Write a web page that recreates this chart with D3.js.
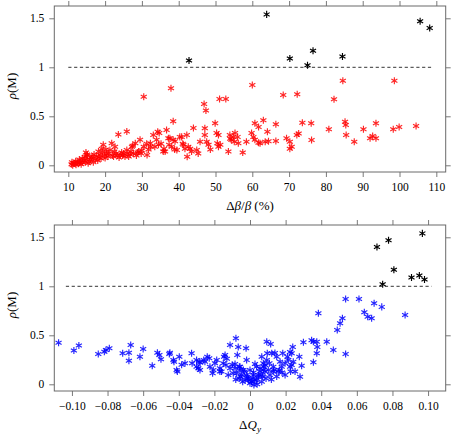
<!DOCTYPE html>
<html>
<head>
<meta charset="utf-8">
<script src="https://cdn.jsdelivr.net/npm/d3@7"></script>
<style>
  body { margin: 0; background: #fff; }
  svg text { font-family: "DejaVu Serif", "Liberation Serif", serif; }
</style>
</head>
<body>
<div id="chart"></div>
<script>
// ---- data ----
const betaRed = [
  [10.9,0.01],[11.0,0.03],[11.2,0.0],[11.5,0.02],[11.8,0.02],[12.0,0.04],[12.1,0.005],[12.4,0.03],
  [12.7,0.015],[13.0,0.025],[13.0,0.06],[13.2,0.037],[13.5,0.01],[13.8,0.07],[13.9,0.03],[14.2,0.05],
  [14.5,0.088],[14.6,0.03],[14.8,0.13],[15.0,0.058],[15.1,0.11],[15.2,0.1],[15.4,0.02],[15.7,0.04],
  [16.0,0.06],[16.3,0.075],[16.5,0.09],[16.8,0.03],[17.0,0.11],[17.3,0.058],[17.7,0.09],[18.0,0.05],
  [18.2,0.14],[18.4,0.08],[18.6,0.105],[18.9,0.07],[19.1,0.17],[19.3,0.13],[19.5,0.21],[19.8,0.1],
  [20.0,0.075],[20.2,0.16],[20.4,0.12],[20.8,0.09],[21.0,0.12],[21.3,0.155],[21.8,0.225],[22.0,0.1],
  [22.3,0.09],[22.5,0.14],[22.7,0.19],[23.0,0.12],[23.3,0.1],[23.6,0.315],[23.8,0.08],[24.1,0.105],
  [24.5,0.13],[24.8,0.1],[25.0,0.12],[25.4,0.09],[25.9,0.345],[25.9,0.155],[26.0,0.12],[26.4,0.09],
  [26.8,0.11],[27.0,0.14],[27.3,0.19],[27.5,0.2],[27.7,0.12],[28.2,0.225],[28.5,0.1],[28.8,0.13],
  [29.1,0.14],[29.5,0.26],[29.8,0.12],[30.0,0.15],[30.5,0.19],[30.5,0.70],[31.3,0.22],[31.4,0.105],
  [31.8,0.16],[32.3,0.225],[32.4,0.19],[33.1,0.31],[33.5,0.19],[34.0,0.26],[34.3,0.343],[34.5,0.21],
  [34.7,0.33],[35.2,0.22],[35.8,0.14],[36.0,0.17],[36.3,0.14],[36.7,0.36],[37.2,0.275],[37.4,0.21],
  [37.6,0.275],[37.9,0.786],[38.1,0.19],[38.5,0.45],[38.5,0.26],[38.9,0.16],[39.0,0.245],[39.5,0.156],
  [40.3,0.29],[40.8,0.29],[41.1,0.22],[41.3,0.21],[41.7,0.17],[42.2,0.31],[42.3,0.088],[42.6,0.19],
  [43.1,0.17],[43.5,0.14],[44.0,0.38],[44.9,0.156],[45.3,0.12],[45.8,0.24],[46.9,0.626],[47.1,0.377],
  [47.1,0.31],[47.4,0.558],[47.6,0.24],[48.1,0.21],[48.6,0.16],[49.9,0.43],[50.3,0.33],[50.5,0.225],
  [50.8,0.31],[50.8,0.19],[51.1,0.677],[51.3,0.21],[52.8,0.677],[53.5,0.14],[53.9,0.31],[54.0,0.27],
  [54.3,0.26],[54.9,0.29],[55.1,0.24],[55.3,0.33],[56.0,0.29],[56.2,0.225],[57.4,0.13],[58.4,0.24],
  [59.8,0.33],[60.0,0.82],[60.3,0.29],[60.7,0.43],[60.7,0.26],[61.7,0.39],[61.7,0.23],[62.1,0.225],
  [63.0,0.46],[63.5,0.24],[64.1,0.343],[64.4,0.245],[66.4,0.42],[66.4,0.248],[68.4,0.717],[69.3,0.275],
  [70.2,0.24],[70.2,0.17],[70.7,0.19],[72.1,0.31],[72.2,0.724],[72.6,0.325],[73.6,0.435],[76.0,0.43],
  [76.1,0.258],[80.8,0.367],[82.2,0.673],[84.6,0.863],[85.2,0.445],[85.4,0.41],[85.5,0.31],[87.7,0.24],
  [90.2,0.367],[92.0,0.275],[92.7,0.30],[93.6,0.275],[93.6,0.43],[98.3,0.367],[98.6,0.863],[99.9,0.39],
  [104.5,0.40]
];
const betaBlack = [
  [42.8,1.07],[63.9,1.54],[70.2,1.09],[75.0,1.02],[76.5,1.17],[84.5,1.11],[105.6,1.47],[108.2,1.40]
];
const qBlue = [
  [-0.1075,0.425],[-0.0989,0.344],[-0.0961,0.395],[-0.0852,0.31],[-0.0818,0.333],[-0.0809,0.35],
  [-0.079,0.367],[-0.0715,0.316],[-0.068,0.323],[-0.068,0.24],[-0.067,0.40],[-0.0618,0.28],[-0.06,0.36],
  [-0.0549,0.19],[-0.052,0.323],[-0.0509,0.30],[-0.05,0.255],[-0.0453,0.31],[-0.045,0.323],[-0.043,0.248],
  [-0.0427,0.23],[-0.0412,0.146],[-0.0408,0.13],[-0.0397,0.28],[-0.0384,0.20],[-0.0365,0.214],
  [-0.0328,0.316],[-0.0325,0.214],[-0.03,0.248],[-0.03,0.18],[-0.029,0.163],[-0.0285,0.23],[-0.0281,0.146],
  [-0.028,0.22],[-0.026,0.248],[-0.0253,0.23],[-0.024,0.28],[-0.0229,0.265],[-0.0225,0.18],[-0.021,0.112],
  [-0.0206,0.146],[-0.0197,0.214],[-0.0187,0.248],[-0.0169,0.163],[-0.0169,0.13],[-0.016,0.13],
  [-0.015,0.214],[-0.0146,0.28],[-0.014,0.30],[-0.0135,0.197],[-0.013,0.26],[-0.0122,0.095],[-0.0112,0.40],
  [-0.0112,0.163],[-0.01,0.2],[-0.0094,0.112],[-0.0084,0.207],[-0.0084,0.163],[-0.008,0.05],[-0.0079,0.47],
  [-0.0075,0.112],[-0.0071,0.30],[-0.0066,0.38],[-0.006,0.18],[-0.006,0.06],[-0.0056,0.146],[-0.0056,0.18],
  [-0.0052,0.078],[-0.0047,0.095],[-0.0041,0.027],[-0.0037,0.146],[-0.003,0.13],[-0.0028,0.044],
  [-0.0022,0.367],[-0.0019,0.248],[-0.0019,0.095],[-0.0015,0.078],[-0.001,0.061],[-0.0009,0.044],
  [0.0,0.01],[0.0,0.146],[0.0009,0.027],[0.001,0.027],[0.0015,0.061],[0.0019,0.095],[0.002,0.12],
  [0.0022,-0.007],[0.0028,0.207],[0.0028,0.044],[0.0037,0.044],[0.0037,0.18],[0.004,0.0],[0.0047,0.095],
  [0.0047,0.078],[0.0056,0.163],[0.0056,0.13],[0.0066,0.28],[0.0066,0.095],[0.0066,0.027],[0.0071,0.078],
  [0.0075,0.146],[0.0075,0.214],[0.0079,0.18],[0.0084,0.13],[0.0084,0.197],[0.009,0.06],[0.0094,0.435],
  [0.0094,0.248],[0.0097,0.316],[0.0103,0.146],[0.0109,0.214],[0.0112,0.095],[0.0116,0.41],[0.012,0.05],
  [0.0122,0.316],[0.0131,0.13],[0.0131,0.18],[0.0135,0.146],[0.014,0.32],[0.015,0.28],[0.015,0.08],
  [0.0159,0.13],[0.0165,0.146],[0.0169,0.23],[0.0178,0.18],[0.018,0.12],[0.0184,0.316],[0.0197,0.095],
  [0.0197,0.214],[0.021,0.28],[0.0215,0.248],[0.0225,0.18],[0.0225,0.33],[0.0228,0.13],[0.0234,0.316],
  [0.0234,0.197],[0.024,0.38],[0.0243,0.23],[0.0253,0.13],[0.0277,0.28],[0.0281,0.078],[0.029,0.19],
  [0.03,0.43],[0.0346,0.45],[0.0356,0.435],[0.0356,0.224],[0.0375,0.435],[0.0375,0.316],[0.0378,0.38],
  [0.0384,0.725],[0.0431,0.435],[0.0468,0.35],[0.049,0.554],[0.0506,0.622],[0.0519,0.673],
  [0.0537,0.87],[0.0537,0.31],[0.0612,0.87],[0.0642,0.735],[0.0661,0.69],[0.0683,0.673],[0.0697,0.826],
  [0.074,0.79],[0.0871,0.707]
];
const qBlack = [
  [0.0713,1.40],[0.0778,1.47],[0.0808,1.17],[0.0745,1.02],[0.0907,1.09],[0.0951,1.11],[0.0968,1.54],[0.098,1.07]
];
const rhoTicks = [0, 0.5, 1, 1.5];
const betaTicks = [10, 20, 30, 40, 50, 60, 70, 80, 90, 100, 110];
const qTicks = [-0.10, -0.08, -0.06, -0.04, -0.02, 0, 0.02, 0.04, 0.06, 0.08, 0.10];
const betaLimitSpan = [10, 108.9];
const qLimitSpan = [-0.1034, 0.102];

const W = 452, H = 437;
const serif = "'Liberation Serif', 'DejaVu Serif', 'Times New Roman', serif";
const svg = d3.select("#chart").append("svg").attr("width", W).attr("height", H);

const panel = (opts) => {
  const { top, bottom, left, right, xDomain, yDomain, xTicks, xFmt, pts, black, colour, span, xTitle } = opts;
  const x = d3.scaleLinear().domain(xDomain).range([left, right]);
  const y = d3.scaleLinear().domain(yDomain).range([bottom, top]);
  const g = svg.append("g");
  const axisCol = "#6a6a6a";

  const styleAxis = (sel) => {
    sel.attr("font-family", serif).attr("font-size", 11.5);
    sel.select(".domain").remove();
    sel.selectAll(".tick line").attr("stroke", axisCol).attr("stroke-width", 0.9);
    sel.selectAll(".tick text").attr("fill", "#000")
      .attr("font-family", serif).style("font-family", serif).style("font-size", "11.5px");
  };

  g.append("g").attr("transform", `translate(0,${bottom})`)
    .call(d3.axisBottom(x).tickValues(xTicks).tickFormat(xFmt).tickSize(5).tickPadding(6))
    .call(styleAxis);
  g.append("g").attr("transform", `translate(0,${top})`)
    .call(d3.axisTop(x).tickValues(xTicks).tickFormat("").tickSize(5))
    .call(styleAxis);
  g.append("g").attr("transform", `translate(${left},0)`)
    .call(d3.axisLeft(y).tickValues(rhoTicks).tickFormat(d3.format("")).tickSize(5).tickPadding(5))
    .call(styleAxis);
  g.append("g").attr("transform", `translate(${right},0)`)
    .call(d3.axisRight(y).tickValues(rhoTicks).tickFormat("").tickSize(5))
    .call(styleAxis);

  g.append("rect").attr("x", left).attr("y", top)
    .attr("width", right - left).attr("height", bottom - top)
    .attr("fill", "none").attr("stroke", axisCol).attr("stroke-width", 1);

  g.append("line")
    .attr("x1", x(span[0])).attr("x2", x(span[1]))
    .attr("y1", y(1)).attr("y2", y(1))
    .attr("stroke", "#000").attr("stroke-width", 0.8).attr("stroke-dasharray", "3.2,2.6");

  const star = d3.symbol(d3.symbolAsterisk, 34);
  g.append("g").selectAll("path").data(pts).join("path")
    .attr("transform", d => `translate(${x(d[0])},${y(d[1])})`)
    .attr("d", star).attr("fill", "none")
    .attr("stroke", colour).attr("stroke-width", 1.15).attr("stroke-opacity", 0.85);
  g.append("g").selectAll("path").data(black).join("path")
    .attr("transform", d => `translate(${x(d[0])},${y(d[1])})`)
    .attr("d", star).attr("fill", "none")
    .attr("stroke", "#000").attr("stroke-width", 1.15);

  // y title
  const yt = g.append("text")
    .attr("transform", `translate(16,${(top + bottom) / 2 - 3}) rotate(-90)`)
    .attr("text-anchor", "middle").style("font-family", serif).style("font-size", "13px");
  yt.append("tspan").style("font-style", "italic").text("ρ");
  yt.append("tspan").text("(M)");

  const xt = g.append("text").attr("x", (left + right) / 2).attr("y", bottom + 38)
    .attr("text-anchor", "middle").style("font-family", serif).style("font-size", "13px");
  xTitle(xt);
};

const L = 54.3, R = 445.7;
const yDom = [-0.0684, 1.6255];

panel({
  top: 6, bottom: 172, left: L, right: R,
  xDomain: [6.196, 112.55], yDomain: yDom,
  xTicks: betaTicks, xFmt: d3.format("d"),
  pts: betaRed, black: betaBlack, colour: "#ff0000", span: betaLimitSpan,
  xTitle: t => {
    t.append("tspan").text("Δ");
    t.append("tspan").style("font-style", "italic").text("β");
    t.append("tspan").text("/");
    t.append("tspan").style("font-style", "italic").text("β");
    t.append("tspan").text(" (%)");
  }
});

panel({
  top: 225, bottom: 391, left: L, right: R,
  xDomain: [-0.1099, 0.1099], yDomain: yDom,
  xTicks: qTicks, xFmt: d => d === 0 ? "0" : d3.format(".2f")(d).replace("-", "−"),
  pts: qBlue, black: qBlack, colour: "#0000ff", span: qLimitSpan,
  xTitle: t => {
    t.append("tspan").text("Δ");
    t.append("tspan").style("font-style", "italic").text("Q");
    t.append("tspan").style("font-style", "italic").style("font-size", "9px").attr("dy", 3).text("y");
  }
});
</script>
</body>
</html>
